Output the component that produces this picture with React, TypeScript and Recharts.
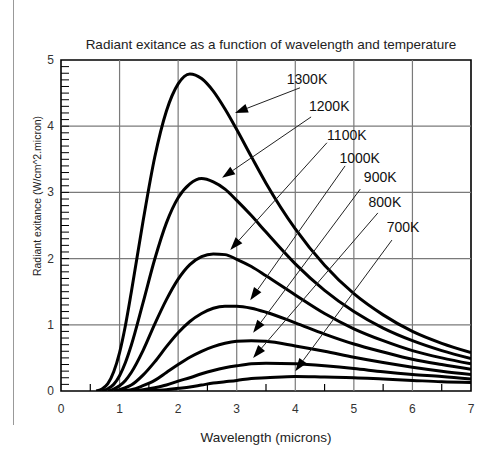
import { LineChart, Line, XAxis, YAxis, ReferenceLine, ReferenceArea } from 'recharts';

// wavelength in microns
const wavelengths = [0.6, 0.7, 0.8, 0.9, 1.0, 1.1, 1.2, 1.4, 1.6, 1.8, 2.0, 2.2, 2.4, 2.6, 2.8, 3.0, 3.25, 3.5, 4.0, 4.5, 5.0, 5.5, 6.0, 6.5, 7.0];

// radiant exitance (W/cm^2.micron) per temperature, null = curve not started yet
const t1300 = [0, 0.03, 0.11, 0.29, 0.58, 0.99, 1.49, 2.56, 3.53, 4.23, 4.64, 4.79, 4.72, 4.53, 4.26, 3.95, 3.54, 3.14, 2.45, 1.9, 1.47, 1.15, 0.9, 0.72, 0.58];
const t1200 = [null, 0, 0.035, 0.1, 0.23, 0.43, 0.69, 1.33, 1.99, 2.54, 2.92, 3.13, 3.21, 3.16, 3.05, 2.88, 2.65, 2.4, 1.92, 1.52, 1.2, 0.95, 0.76, 0.61, 0.49];
const t1100 = [null, null, 0, 0.03, 0.08, 0.16, 0.28, 0.61, 1.01, 1.38, 1.69, 1.91, 2.03, 2.07, 2.06, 1.99, 1.88, 1.74, 1.45, 1.17, 0.94, 0.76, 0.61, 0.5, 0.41];
const t1000 = [null, null, null, 0, 0.02, 0.05, 0.09, 0.24, 0.44, 0.67, 0.88, 1.05, 1.17, 1.25, 1.28, 1.28, 1.25, 1.19, 1.03, 0.86, 0.71, 0.59, 0.48, 0.4, 0.33];
const t900 = [null, null, null, null, 0, 0.01, 0.02, 0.08, 0.16, 0.28, 0.4, 0.51, 0.6, 0.67, 0.72, 0.75, 0.76, 0.75, 0.68, 0.6, 0.51, 0.43, 0.36, 0.3, 0.25];
const t800 = [null, null, null, null, null, null, 0, 0.02, 0.05, 0.09, 0.15, 0.2, 0.26, 0.31, 0.35, 0.38, 0.41, 0.42, 0.41, 0.38, 0.34, 0.29, 0.25, 0.22, 0.18];
const t700 = [null, null, null, null, null, null, null, 0, 0.01, 0.02, 0.04, 0.06, 0.09, 0.12, 0.14, 0.16, 0.19, 0.2, 0.22, 0.21, 0.2, 0.18, 0.16, 0.14, 0.13];

const seriesKeys = ['t1300', 't1200', 't1100', 't1000', 't900', 't800', 't700'];

const xTicks = [0, 0.5, 1, 1.5, 2, 2.5, 3, 3.5, 4, 4.5, 5, 5.5, 6, 6.5, 7];
const yTicks = Array.from({ length: 51 }, (_, i) => i / 10);
const gridX = [1, 2, 3, 4, 5, 6];
const gridY = [1, 2, 3, 4];

// callouts: label text, label anchor, arrow start, arrow tip (data coords)
const callouts = [
  { text: '1300K', lx: 4.2, ly: 4.64, sx: 4.08, sy: 4.58, tx: 2.97, ty: 4.2 },
  { text: '1200K', lx: 4.58, ly: 4.23, sx: 4.27, sy: 4.14, tx: 2.75, ty: 3.22 },
  { text: '1100K', lx: 4.88, ly: 3.79, sx: 4.54, sy: 3.75, tx: 2.89, ty: 2.13 },
  { text: '1000K', lx: 5.1, ly: 3.44, sx: 4.85, sy: 3.4, tx: 3.23, ty: 1.37 },
  { text: '900K', lx: 5.45, ly: 3.16, sx: 5.11, sy: 3.05, tx: 3.28, ty: 0.88 },
  { text: '800K', lx: 5.53, ly: 2.78, sx: 5.41, sy: 2.69, tx: 3.28, ty: 0.5 },
  { text: '700K', lx: 5.84, ly: 2.4, sx: 5.65, sy: 2.28, tx: 4.0, ty: 0.3 },
];

const data = wavelengths.map((wl, i) => ({
  wl,
  t1300: t1300[i],
  t1200: t1200[i],
  t1100: t1100[i],
  t1000: t1000[i],
  t900: t900[i],
  t800: t800[i],
  t700: t700[i],
}));

const FONT = '"Liberation Sans", Arial, Helvetica, sans-serif';

function YTick(props: any) {
  const { x, y, payload } = props;
  const v = payload.value;
  const major = Math.abs(v - Math.round(v)) < 1e-6;
  return (
    <g>
      {v > 0.01 && v < 4.99 && <line x1={x} x2={x + 8} y1={y} y2={y} stroke="#000" strokeWidth={1} />}
      {major && (
        <text x={x - 7} y={y + 4} textAnchor="end" fontSize={12} fontFamily={FONT} fill="#333">
          {Math.round(v)}
        </text>
      )}
    </g>
  );
}

function XTick(props: any) {
  const { x, y, payload } = props;
  const v = payload.value;
  const major = Number.isInteger(v);
  return (
    <g>
      {!major && <line x1={x} x2={x} y1={y} y2={y - 7} stroke="#000" strokeWidth={1.2} />}
      {major && (
        <text x={x} y={y + 22} textAnchor="middle" fontSize={12} fontFamily={FONT} fill="#333">
          {v}
        </text>
      )}
    </g>
  );
}

function Arrow(props: any) {
  const { x1, y1, x2, y2 } = props;
  const ang = Math.atan2(y2 - y1, x2 - x1);
  const len = 13;
  const half = 4.5;
  const bx = x2 - len * Math.cos(ang);
  const by = y2 - len * Math.sin(ang);
  const px = -Math.sin(ang) * half;
  const py = Math.cos(ang) * half;
  return (
    <g>
      <line x1={x1} y1={y1} x2={bx} y2={by} stroke="#222" strokeWidth={1} />
      <polygon points={`${x2},${y2} ${bx + px},${by + py} ${bx - px},${by - py}`} fill="#000" />
    </g>
  );
}

function CalloutText(props: any) {
  const { cx, cy, text } = props;
  return (
    <text x={cx} y={cy} textAnchor="middle" fontSize={14} fontFamily={FONT} fill="#111">
      {text}
    </text>
  );
}

export default function App() {
  return (
    <div style={{ position: 'absolute', left: 0, top: 0, width: 495, height: 462, background: '#fff', fontFamily: FONT }}>
      <div style={{ position: 'absolute', left: 13, top: 0, width: 1, height: 425, background: '#999' }} />
      <div
        style={{
          position: 'absolute',
          left: 271,
          top: 38,
          transform: 'translateX(-50%)',
          fontSize: 13.5,
          lineHeight: '14px',
          whiteSpace: 'nowrap',
          color: '#222',
        }}
      >
        Radiant exitance as a function of wavelength and temperature
      </div>
      <div
        style={{
          position: 'absolute',
          left: 266,
          top: 431,
          transform: 'translateX(-50%)',
          fontSize: 13.5,
          lineHeight: '14px',
          whiteSpace: 'nowrap',
          color: '#222',
        }}
      >
        Wavelength (microns)
      </div>
      <div
        style={{
          position: 'absolute',
          left: 37,
          top: 196,
          transform: 'translate(-50%, -50%) rotate(-90deg)',
          fontSize: 10.5,
          lineHeight: '11px',
          whiteSpace: 'nowrap',
          color: '#222',
        }}
      >
        Radiant exitance (W/cm^2.micron)
      </div>
      <div style={{ position: 'absolute', left: 0, top: 0 }}>
        <LineChart width={495} height={462} data={data} margin={{ top: 60, right: 24, bottom: 41, left: 21 }}>
          <XAxis
            dataKey="wl"
            type="number"
            domain={[0, 7]}
            ticks={xTicks}
            interval={0}
            tickSize={0}
            tickMargin={0}
            axisLine={false}
            tickLine={false}
            tick={<XTick />}
            height={30}
            allowDataOverflow
          />
          <YAxis
            type="number"
            domain={[0, 5]}
            ticks={yTicks}
            interval={0}
            tickSize={0}
            tickMargin={0}
            axisLine={false}
            tickLine={false}
            tick={<YTick />}
            width={40}
            allowDataOverflow
          />
          {gridX.map((v) => (
            <ReferenceLine key={`gx${v}`} x={v} stroke="#7a7a7a" strokeWidth={1.2} />
          ))}
          {gridY.map((v) => (
            <ReferenceLine key={`gy${v}`} y={v} stroke="#7a7a7a" strokeWidth={1.2} />
          ))}
          {seriesKeys.map((k) => (
            <Line
              key={k}
              dataKey={k}
              type="monotone"
              stroke="#000"
              strokeWidth={3}
              dot={false}
              activeDot={false}
              isAnimationActive={false}
            />
          ))}
          {callouts.map((c) => (
            <ReferenceLine
              key={`a${c.text}`}
              segment={[
                { x: c.sx, y: c.sy },
                { x: c.tx, y: c.ty },
              ]}
              shape={(p: any) => <Arrow {...p} />}
            />
          ))}
          {callouts.map((c) => (
            <ReferenceLine
              key={`t${c.text}`}
              segment={[
                { x: c.lx, y: c.ly },
                { x: c.lx, y: c.ly },
              ]}
              shape={(p: any) => <CalloutText cx={p.x1} cy={p.y1} text={c.text} />}
            />
          ))}
          <ReferenceArea x1={0} x2={7} y1={0} y2={5} fill="none" stroke="#000" strokeWidth={1.6} />
        </LineChart>
      </div>
    </div>
  );
}
